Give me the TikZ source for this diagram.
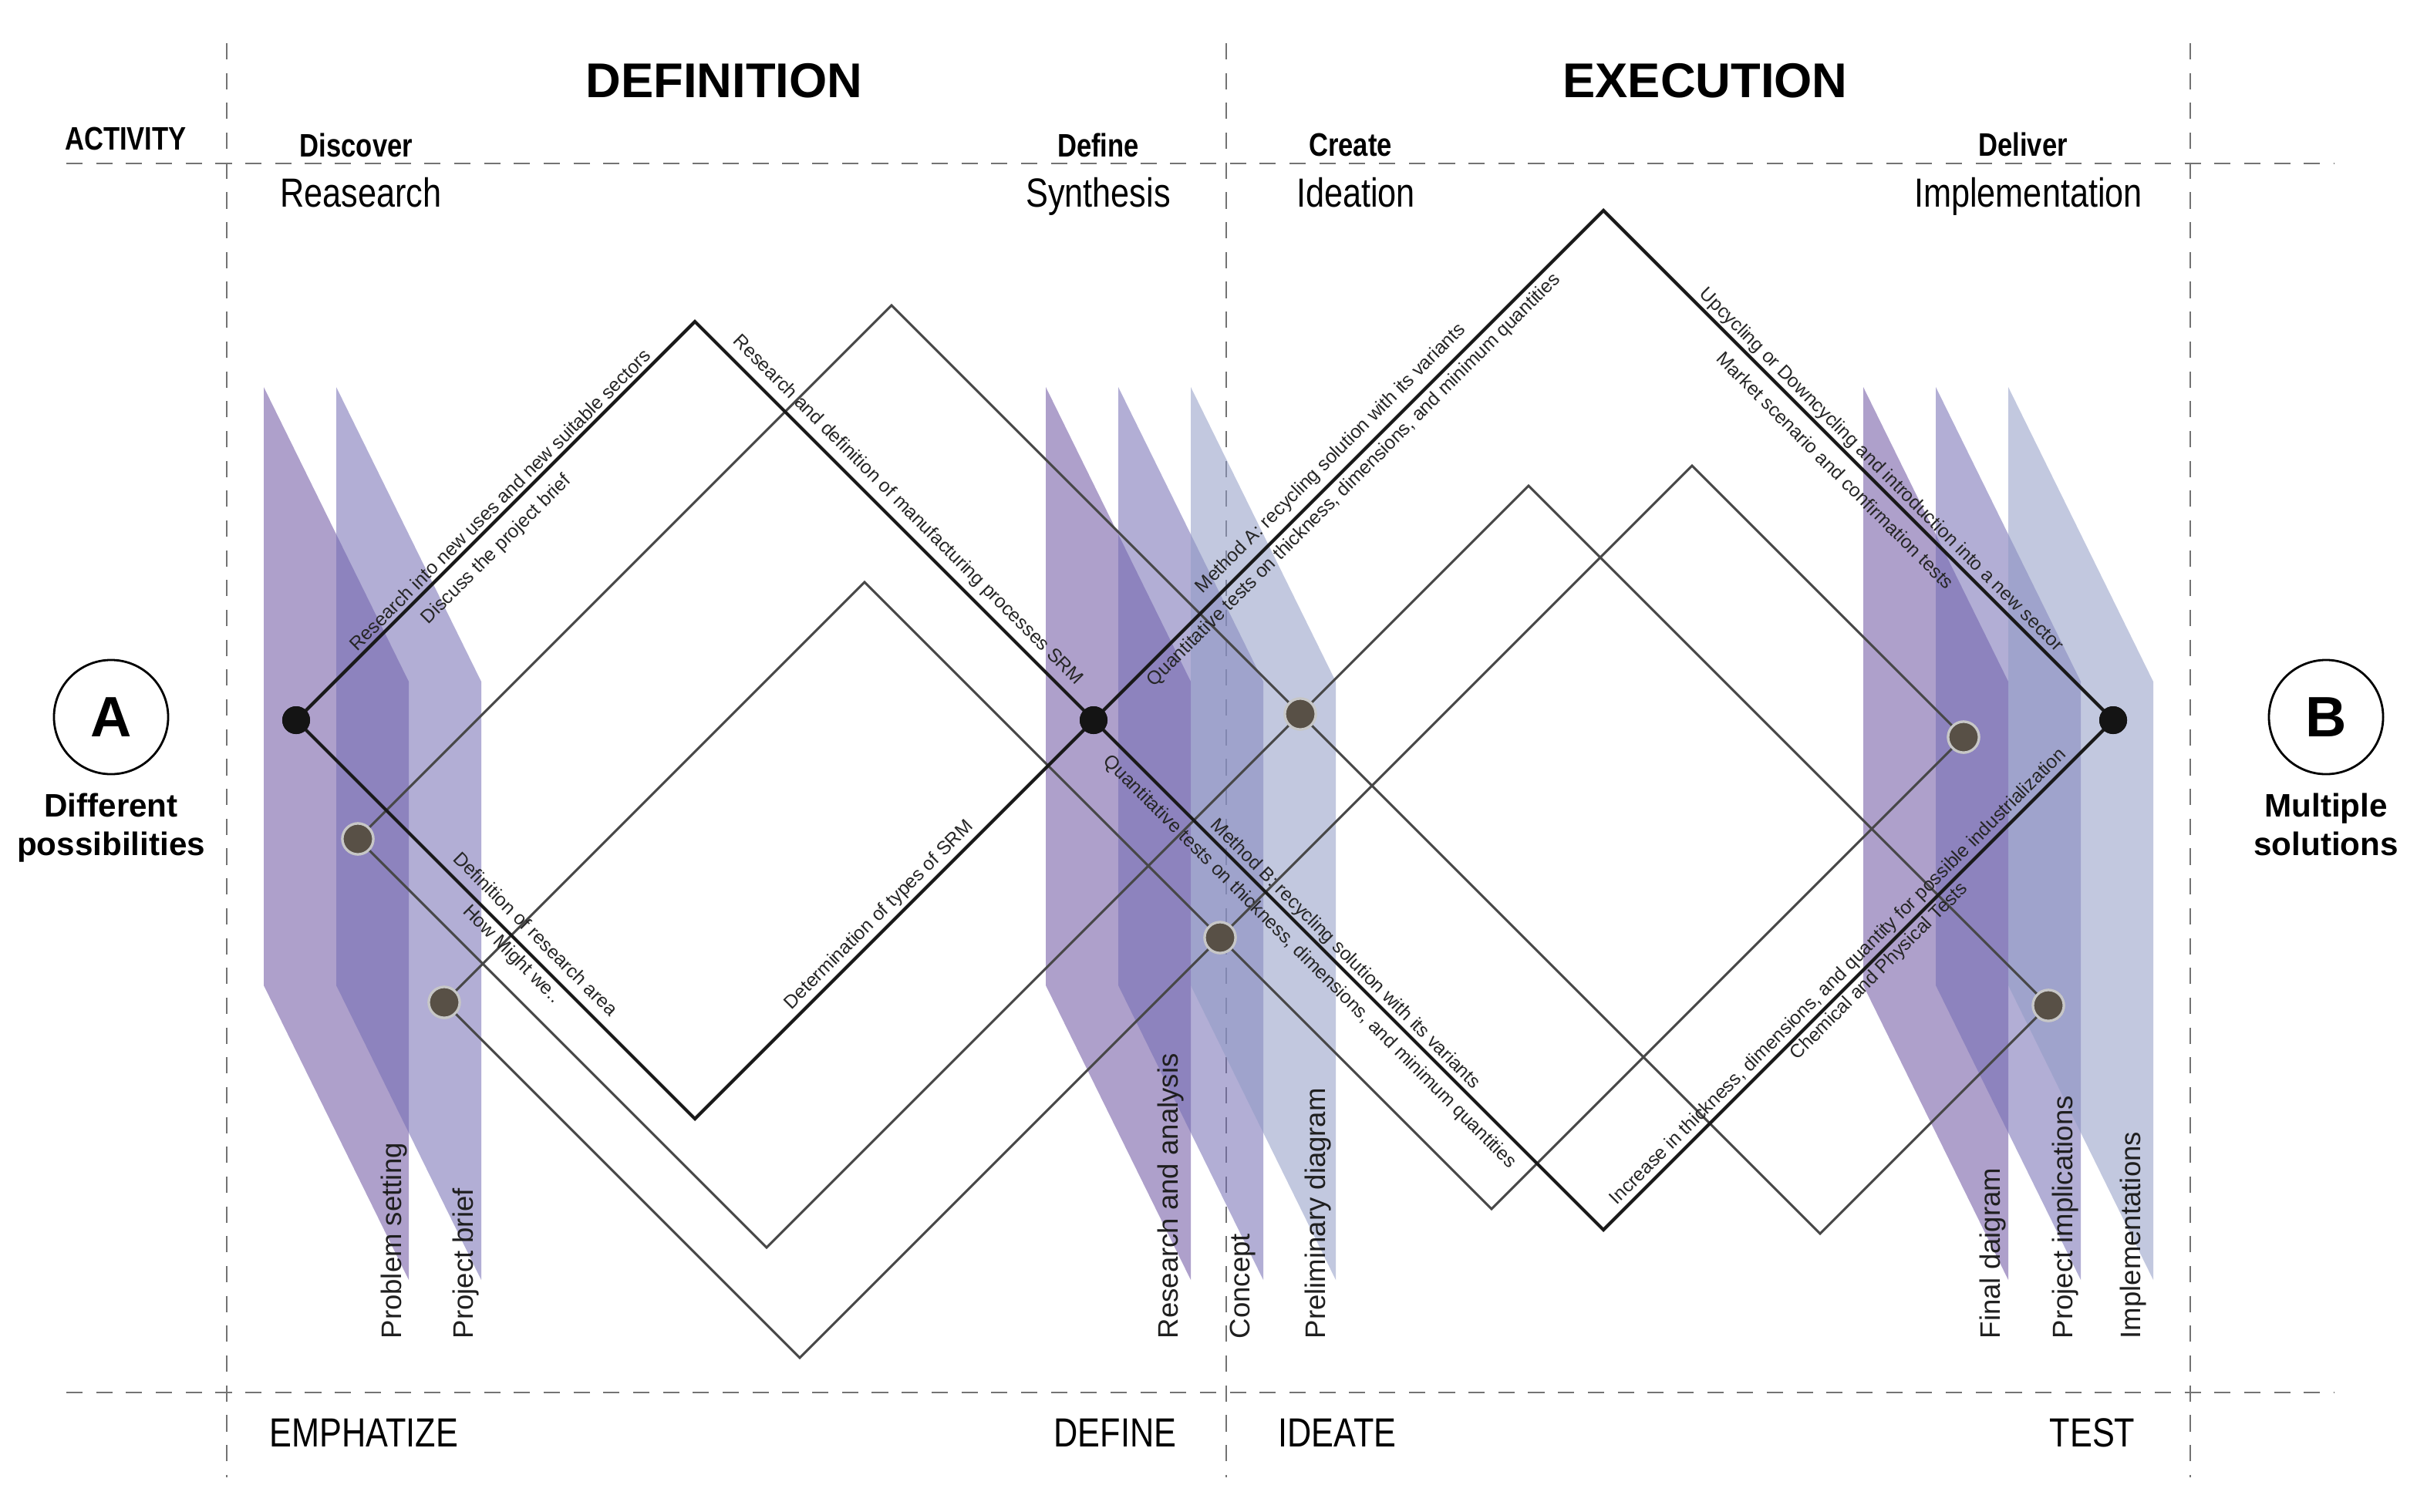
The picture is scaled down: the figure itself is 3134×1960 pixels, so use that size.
\documentclass[tikz,border=0pt]{standalone}
\usepackage{fontspec}
\setmainfont{Liberation Sans}
\usepackage{graphicx}
\definecolor{finA}{RGB}{108,82,162}
\definecolor{finB}{RGB}{115,108,180}
\definecolor{finC}{RGB}{144,155,198}
\definecolor{dotfill}{RGB}{88,80,70}
\newcommand\narrowtxt[1]{\scalebox{0.82}[1]{#1}}
\newcommand\fsz[2]{\fontsize{#1}{#2}\selectfont}
\newcommand\drawfin[2]{\fill[#2, fill opacity=0.55] (#1,502) -- ++(188,382) -- ++(0,776) -- ++(-188,-382) -- cycle;}
\begin{document}
\begin{tikzpicture}[x=0.01cm,y=-0.01cm,
  dashline/.style={draw=black!55, line width=0.8pt, dash pattern=on 6pt off 5pt},
  blackline/.style={draw=black!90, line width=1.2pt, line join=miter},
  grayline/.style={draw=black!72, line width=0.85pt, line join=miter},
  bdot/.style={circle, fill=black!92, minimum size=0.36cm, inner sep=0pt},
  gdot/.style={circle, fill=dotfill, draw=black!22, line width=0.9pt, minimum size=0.40cm, inner sep=0pt},
  dlabel/.style={inner sep=0pt, text=black!85, font=\fsz{7}{8}},
  vlabel/.style={rotate=90, anchor=south west, inner sep=0pt, text=black!88, font=\fsz{10.4}{12}},
  title/.style={anchor=base, inner sep=0pt, font=\fsz{18}{20}\bfseries},
  phase/.style={anchor=base, inner sep=0pt, font=\fsz{12}{14}\bfseries},
  stage/.style={anchor=base, inner sep=0pt, font=\fsz{15}{17}},
  endcirc/.style={circle, draw=black, line width=0.8pt, minimum size=1.48cm, inner sep=0pt, font=\fsz{21}{24}\bfseries},
  endtext/.style={anchor=north, align=center, inner sep=0pt, font=\fsz{12}{14.2}\bfseries}]

\fill[white] (0,0) rectangle (3134,1960);
\useasboundingbox (0,0) rectangle (3134,1960);

% dashed grid
\draw[dashline] (86,212) -- (3026,212);
\draw[dashline] (86,1806) -- (3026,1806);
\draw[dashline] (294,56) -- (294,1916);
\draw[dashline] (1590,56) -- (1590,1916);
\draw[dashline] (2840,56) -- (2840,1916);

% fins
\drawfin{342}{finA}
\drawfin{436}{finB}
\drawfin{1356}{finA}
\drawfin{1450}{finB}
\drawfin{1544}{finC}
\drawfin{2416}{finA}
\drawfin{2510}{finB}
\drawfin{2604}{finC}

% dots (nodes)
\node[bdot] (L) at (384,934) {};
\node[bdot] (R) at (1418,934) {};
\node[bdot] (Bd) at (2740,934) {};
\node[gdot] (g1) at (464,1088) {};
\node[gdot] (g2) at (576,1300) {};
\node[gdot] (g3) at (1686,926) {};
\node[gdot] (g4) at (1582,1216) {};
\node[gdot] (g5) at (2546,956) {};
\node[gdot] (g6) at (2656,1304) {};

% vertices
\coordinate (T1) at (901,417);
\coordinate (B1) at (901,1451);
\coordinate (T2) at (2079,273);
\coordinate (B2) at (2079,1595);
\coordinate (G1t) at (1156,396);
\coordinate (G1b) at (994,1618);
\coordinate (G2t) at (1121,755);
\coordinate (G2b) at (1037,1761);
\coordinate (G3t) at (1982,630);
\coordinate (G3b) at (2360,1600);
\coordinate (G4t) at (2194,604);
\coordinate (G4b) at (1934,1568);

% gray diamonds
\begin{scope}[on background layer/.style={}]
\draw[grayline] (g1.center) -- (G1t) -- (g3.center) -- (G1b) -- cycle;
\draw[grayline] (g2.center) -- (G2t) -- (g4.center) -- (G2b) -- cycle;
\draw[grayline] (g3.center) -- (G3t) -- (g6.center) -- (G3b) -- cycle;
\draw[grayline] (g4.center) -- (G4t) -- (g5.center) -- (G4b) -- cycle;
\end{scope}

% black diamonds
\draw[blackline] (L.center) -- (T1) -- (R.center) -- (B1) -- cycle;
\draw[blackline] (R.center) -- (T2) -- (Bd.center) -- (B2) -- cycle;

% redraw dots on top
\node[bdot] at (L) {};
\node[bdot] at (R) {};
\node[bdot] at (Bd) {};
\foreach \g in {g1,g2,g3,g4,g5,g6} {\node[gdot] at (\g) {};}

% diagonal labels
\node[dlabel, rotate=45] (l1) at (648,648) {Research into new uses and new suitable sectors};
\node[dlabel, rotate=45] (l2) at (644,713) {Discuss the project brief};
\node[dlabel, rotate=-45] (l3) at (1177,662) {Research and definition of manufacturing processes SRM};
\node[dlabel, rotate=-45] (l4) at (695,1211) {Definition of research area};
\node[dlabel, rotate=-45] (l5) at (663,1238) {How Might we..};
\node[dlabel, rotate=45] (l6) at (1140,1187) {Determination of types of SRM};
\node[dlabel, rotate=45] (l7) at (1726,595) {Method A: recycling solution with its variants};
\node[dlabel, rotate=45] (l8) at (1756,623) {Quantitative tests on thickness, dimensions, and minimum quantities};
\node[dlabel, rotate=-45] (l9) at (2439,610) {Upcycling or Downcycling and introduction into a new sector};
\node[dlabel, rotate=-45] (l10) at (2380,610) {Market scenario and confirmation tests};
\node[dlabel, rotate=-45] (l11) at (1744,1238) {Method B: recycling solution with its variants};
\node[dlabel, rotate=-45] (l12) at (1698,1248) {Quantitative tests on thickness, dimensions, and minimum quantities};
\node[dlabel, rotate=45] (l13) at (2384,1267) {Increase in thickness, dimensions, and quantity for possible industrialization};
\node[dlabel, rotate=45] (l14) at (2437,1260) {Chemical and Physical Tests};

% vertical labels
\node[vlabel] (v1) at (529,1737) {Problem setting};
\node[vlabel] (v2) at (622,1737) {Project brief};
\node[vlabel] (v3) at (1536,1737) {Research and analysis};
\node[vlabel] (v4) at (1629,1737) {Concept};
\node[vlabel] (v5) at (1727,1737) {Preliminary diagram};
\node[vlabel] (v6) at (2602,1737) {Final daigram};
\node[vlabel] (v7) at (2696,1737) {Project implications};
\node[vlabel] (v8) at (2784,1737) {Implementations};

% titles
\node[title] (tdef) at (939,126) {DEFINITION};
\node[title] (texe) at (2211,126) {EXECUTION};
\node[phase] (act) at (163,194) {\narrowtxt{ACTIVITY}};
\node[phase] (disc) at (462,203) {\narrowtxt{Discover}};
\node[phase] (defi) at (1424,203) {\narrowtxt{Define}};
\node[phase] (crea) at (1751,202) {\narrowtxt{Create}};
\node[phase] (deli) at (2623,202) {\narrowtxt{Deliver}};
\node[stage] (s1) at (468,268) {\narrowtxt{Reasearch}};
\node[stage] (s2) at (1424,268) {\narrowtxt{Synthesis}};
\node[stage] (s3) at (1758,268) {\narrowtxt{Ideation}};
\node[stage] (s4) at (2630,268) {\narrowtxt{Implementation}};
\node[stage] (b1) at (472,1876) {\narrowtxt{EMPHATIZE}};
\node[stage] (b2) at (1446,1876) {\narrowtxt{DEFINE}};
\node[stage] (b3) at (1734,1876) {\narrowtxt{IDEATE}};
\node[stage] (b4) at (2713,1876) {\narrowtxt{TEST}};

% end circles
\node[endcirc] (cA) at (144,930) {A};
\node[endcirc] (cB) at (3016,930) {B};
\node[endtext] (tA) at (144,1028) {Different\\possibilities};
\node[endtext] (tB) at (3016,1028) {Multiple\\solutions};
\end{tikzpicture}
\end{document}
